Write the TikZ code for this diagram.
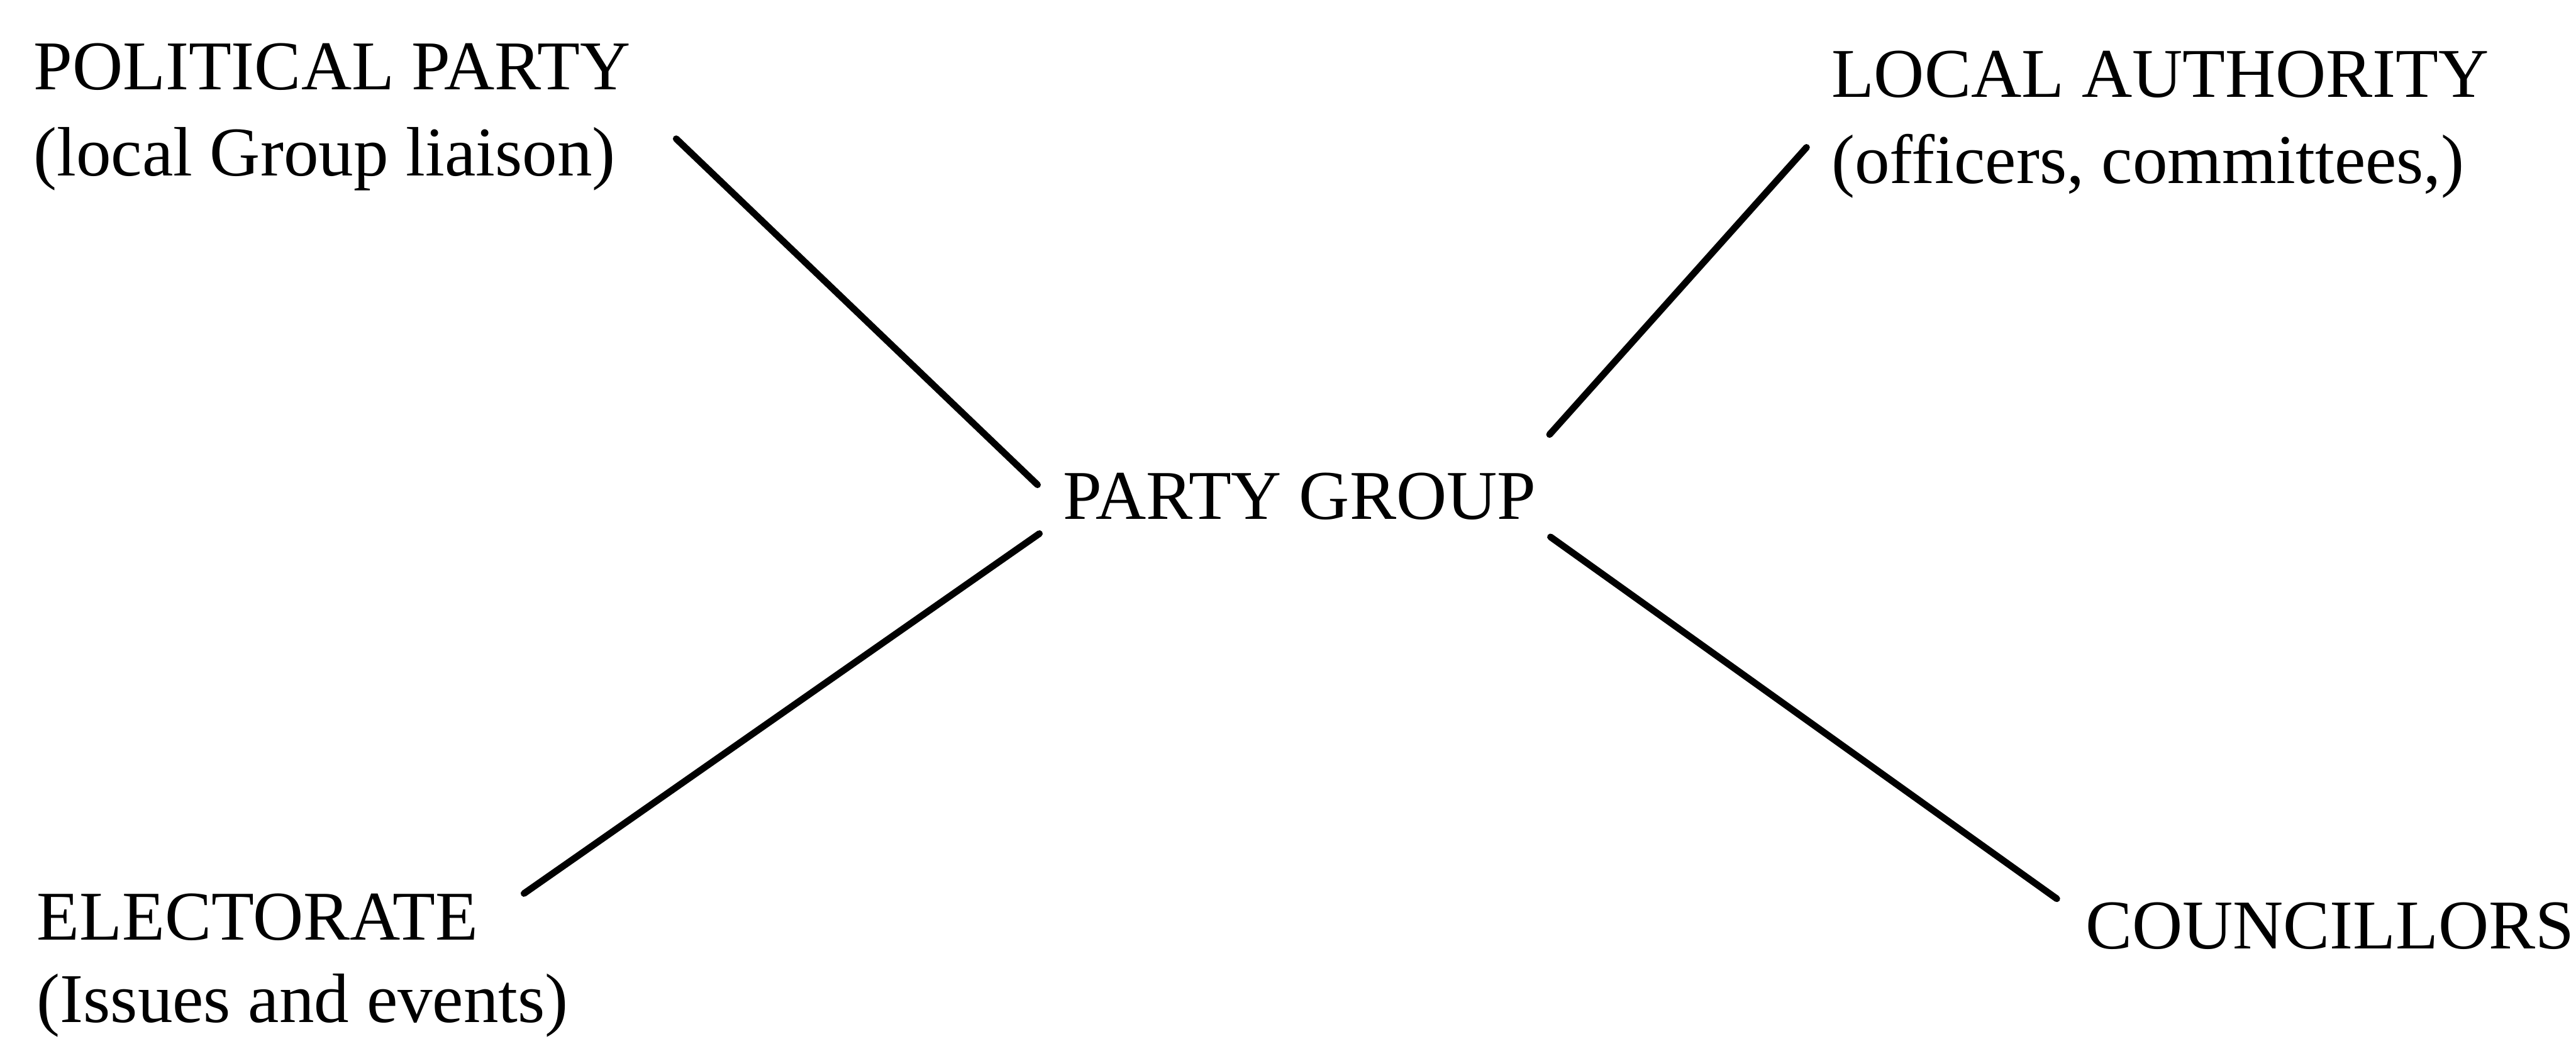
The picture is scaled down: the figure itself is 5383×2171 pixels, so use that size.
\documentclass[tikz,border=0pt]{standalone}
\usepackage{fontspec}
\setmainfont{Liberation Serif}
\begin{document}
\begin{tikzpicture}[x=0.1pt,y=-0.1pt,
  lbl/.style={anchor=base west,inner sep=0pt,outer sep=0pt,
    font=\fontsize{14.6pt}{18pt}\selectfont,text=black},
  link/.style={draw=black,line width=1.4pt,line cap=round}]
\useasboundingbox[fill=white] (0,0) rectangle (5383,2171);
% labels
\node[lbl] (pol)   at (70,187)   {POLITICAL PARTY};
\node[lbl] (polb)  at (70,367)   {(local Group liaison)};
\node[lbl] (loc)   at (3827,203) {LOCAL AUTHORITY};
\node[lbl] (locb)  at (3827,383) {(officers, committees,)};
\node[lbl] (pg)    at (2222,1085) {PARTY GROUP};
\node[lbl] (ele)   at (77,1964)  {ELECTORATE};
\node[lbl] (eleb)  at (77,2136)  {(Issues and events)};
\node[lbl] (cou)   at (4358,1983) {COUNCILLORS};
% connector ends
\coordinate (polend) at (1413,290);
\coordinate (pgnw)   at (2168,1013);
\coordinate (locend) at (3775,308);
\coordinate (pgne)   at (3238,908);
\coordinate (pgsw)   at (2172,1115);
\coordinate (eleend) at (1095,1867);
\coordinate (pgse)   at (3240,1122);
\coordinate (couend) at (4298,1878);
% connectors
\draw[link] (polend) -- (pgnw);
\draw[link] (locend) -- (pgne);
\draw[link] (pgsw) -- (eleend);
\draw[link] (pgse) -- (couend);
\end{tikzpicture}
\end{document}
